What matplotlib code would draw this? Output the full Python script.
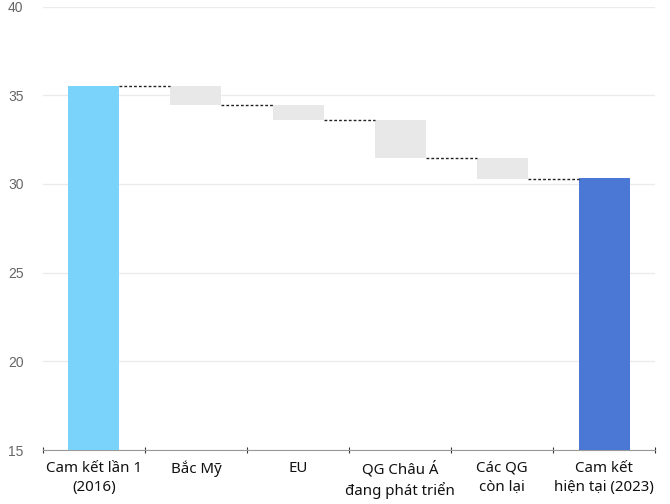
import numpy as np
import matplotlib.pyplot as plt

# waterfall data
categories = ["Cam kết lần 1\n(2016)", "Bắc Mỹ", "EU", "QG Châu Á\nđang phát triển",
              "Các QG\ncòn lại", "Cam kết\nhiện tại (2023)"]
start_value = 35.5
changes = [-1.05, -0.85, -2.15, -1.15]
end_value = 30.35

c_start = "#7ad3fa"
c_end = "#4a78d4"
c_step = "#e8e8e8"

fig = plt.figure(figsize=(6.7, 5.04), dpi=100)
ax = fig.add_axes([0.064, 0.107, 0.914, 0.88])

x = np.arange(len(categories))
w = 0.5
ymin = 15

# levels after each step
levels = [start_value]
for d in changes:
    levels.append(levels[-1] + d)

ax.bar(x[0], start_value - ymin, bottom=ymin, width=w, color=c_start, zorder=3)
for i, d in enumerate(changes):
    top = levels[i]
    bot = levels[i + 1]
    ax.bar(x[i + 1], top - bot, bottom=bot, width=w, color=c_step, zorder=3)
ax.bar(x[-1], end_value - ymin, bottom=ymin, width=w, color=c_end, zorder=3)

# dotted connectors
conn = levels + [end_value]
for i in range(len(categories) - 1):
    ax.plot([x[i] + w / 2, x[i + 1] - w / 2], [conn[i], conn[i]],
            color="#222222", lw=1, ls=(0, (2, 1.5)), zorder=4)

ax.set_xlim(-0.5, len(categories) - 0.5)
ax.set_ylim(ymin, 40)
ax.set_yticks(np.arange(15, 41, 5))
ax.yaxis.grid(True, color="#ebebeb", lw=1, zorder=0)
ax.tick_params(axis="y", length=0, labelsize=10, labelcolor="#666666", pad=14)
for lab in ax.get_yticklabels():
    lab.set_fontfamily("Liberation Sans")

# category ticks at boundaries, labels at centres
ax.set_xticks(np.arange(-0.5, len(categories), 1.0))
ax.set_xticklabels([])
ax.tick_params(axis="x", length=5, color="#333333", direction="inout")
for xi, lab in zip(x, categories):
    ax.text(xi, ymin - 0.6, lab, ha="center", va="top", fontsize=10.8,
            family="Noto Sans", color="#111111", linespacing=1.35)

for s in ["top", "right", "left"]:
    ax.spines[s].set_visible(False)
ax.spines["bottom"].set_color("#999999")

fig.savefig("out.png", dpi=100)
